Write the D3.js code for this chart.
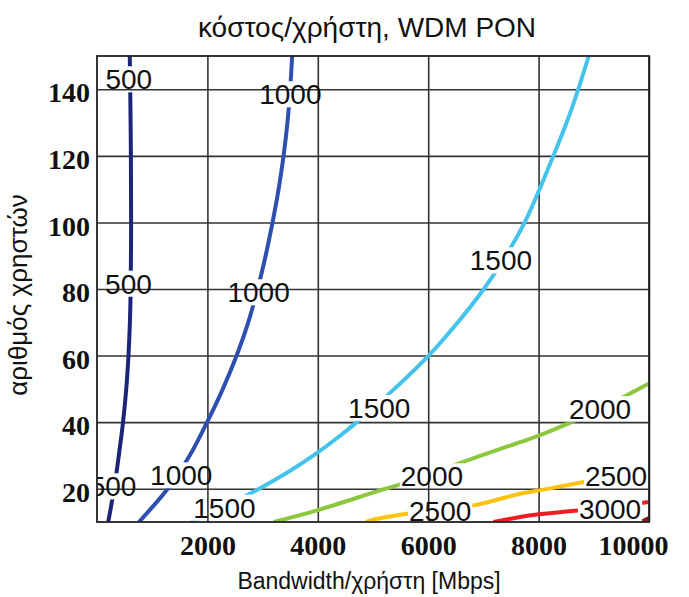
<!DOCTYPE html>
<html>
<head>
<meta charset="utf-8">
<script src="https://cdn.jsdelivr.net/npm/d3@7"></script>
<style>
  body { margin: 0; background: #fff; }
  svg { display: block; }
</style>
</head>
<body>
<svg id="chart" width="689" height="597"></svg>
<script>
// Axis ticks
const xTicks = [2000, 4000, 6000, 8000, 10000];
const yTicks = [20, 40, 60, 80, 100, 120, 140];

// Iso-cost lines: [bandwidth per user (Mbps), number of users]
const contour500 = [[203,10],[258,15],[310,20],[355,25],[395,30],[435,35],[472,40],[530,50],[570,60],[596,70],[610,80],[618,100],[614,120],[602,140],[594,150]];
const contour1000 = [[760,10],[1280,20],[1680,30],[1995,40],[2280,50],[2530,60],[2740,70],[2910,80],[3055,90],[3180,100],[3290,110],[3380,120],[3450,130],[3500,140],[3535,150]];
const contour1500 = [[1723,10],[2348,15],[2938,20],[3463,25],[3923,30],[4333,35],[4708,40],[5388,50],[6008,60],[6538,70],[7008,80],[7408,90],[7748,100],[8018,110],[8268,120],[8508,130],[8718,140],[8908,150]];
const contour2000 = [[3200,10],[3986,13.5],[5131,19.5],[5734,22.5],[6458,27],[7665,34],[8014,36],[8992,43],[10000,51.6]];
const contour2500 = [[4880,10],[4950,10.5],[5614,12.5],[6820,15],[7665,18.5],[8014,19.5],[8811,22],[10000,25.5]];
const contour3000 = [[7182,10],[7665,11.5],[8014,12.3],[9000,14],[10000,16]];
const contour3500 = [[9850,10],[10000,11.2]];

// Where each level's value is written on its line: [bandwidth, users]
const labels500 = [[576,143],[570,81.6],[290,20.7]];
const labels1000 = [[3503,138.5],[2928,79],[1526,24]];
const labels1500 = [[7318,88.6],[5113,44.3],[2308,14.3]];
const labels2000 = [[9113,43.9],[6067,23.7]];
const labels2500 = [[9403,23.7],[6217,13.2]];
const labels3000 = [[9294,13.8]];
const labels3500 = [];

const levels = [500, 1000, 1500, 2000, 2500, 3000, 3500];
const levelLines = [contour500, contour1000, contour1500, contour2000, contour2500, contour3000, contour3500];
const levelLabels = [labels500, labels1000, labels1500, labels2000, labels2500, labels3000, labels3500];
const levelColors = ["#1c247a", "#2f4fae", "#45c3ea", "#8dc63f", "#ffc20e", "#ee1c24", "#8b1414"];

const svg = d3.select("#chart");
const plot = { left: 97, top: 56, right: 649, bottom: 522 };

const x = d3.scaleLinear().domain([0, 10000]).range([plot.left, plot.right]);
const y = d3.scaleLinear().domain([10, 150]).range([plot.bottom, plot.top]);

const defs = svg.append("defs");
defs.append("clipPath").attr("id", "plotClip")
  .append("rect")
  .attr("x", plot.left).attr("y", plot.top)
  .attr("width", plot.right - plot.left).attr("height", plot.bottom - plot.top);
const mask = defs.append("mask").attr("id", "labelGaps")
  .attr("maskUnits", "userSpaceOnUse")
  .attr("x", 0).attr("y", 0).attr("width", 689).attr("height", 597);
mask.append("rect").attr("x", 0).attr("y", 0).attr("width", 689).attr("height", 597).attr("fill", "#fff");

const sans = "Liberation Sans, Arial, sans-serif";

// Title
svg.append("text")
  .attr("x", 367).attr("y", 37)
  .attr("text-anchor", "middle")
  .attr("font-family", sans)
  .attr("font-size", 28)
  .attr("fill", "#111")
  .text("κόστος/χρήστη, WDM PON");

// Grid
const gridX = svg.append("g")
  .attr("transform", `translate(0,${plot.bottom})`)
  .call(d3.axisBottom(x).tickValues(xTicks).tickSize(-(plot.bottom - plot.top)).tickFormat(""));
const gridY = svg.append("g")
  .attr("transform", `translate(${plot.left},0)`)
  .call(d3.axisLeft(y).tickValues(yTicks).tickSize(-(plot.right - plot.left)).tickFormat(""));
[gridX, gridY].forEach(g => {
  g.select(".domain").remove();
  g.selectAll(".tick line").attr("stroke", "#333").attr("stroke-width", 1.6);
});

// Contour lines and their labels
const lineGen = d3.line()
  .x(d => x(d[0]))
  .y(d => y(d[1]))
  .curve(d3.curveCatmullRom.alpha(0.5));

const clipped = svg.append("g").attr("clip-path", "url(#plotClip)");
const linesG = clipped.append("g").attr("mask", "url(#labelGaps)");
const labelsG = clipped.append("g");

const labelSize = 28;
levels.forEach((lvl, i) => {
  linesG.append("path")
    .datum(levelLines[i])
    .attr("d", lineGen)
    .attr("fill", "none")
    .attr("stroke", levelColors[i])
    .attr("stroke-width", 4)
    .attr("stroke-linecap", "butt")
    .attr("stroke-linejoin", "round");

  levelLabels[i].forEach(p => {
    const cx = x(p[0]), cy = y(p[1]);
    const t = labelsG.append("text")
      .attr("x", cx)
      .attr("y", cy + labelSize * 0.358)
      .attr("text-anchor", "middle")
      .attr("font-family", sans)
      .attr("font-size", labelSize)
      .attr("fill", "#111")
      .text(lvl);
    const bb = t.node().getBBox();
    mask.append("rect")
      .attr("x", bb.x - 1)
      .attr("y", cy - labelSize * 0.358 - 3)
      .attr("width", bb.width + 2)
      .attr("height", labelSize * 0.716 + 6)
      .attr("fill", "#000");
  });
});

// Frame
svg.append("rect")
  .attr("x", plot.left).attr("y", plot.top)
  .attr("width", plot.right - plot.left).attr("height", plot.bottom - plot.top)
  .attr("fill", "none").attr("stroke", "#222").attr("stroke-width", 1.8);

// Tick labels
const tickFont = "Liberation Serif, Times New Roman, serif";
const xAxis = svg.append("g")
  .attr("transform", `translate(0,${plot.bottom})`)
  .call(d3.axisBottom(x).tickValues(xTicks).tickSize(0).tickPadding(13).tickFormat(d3.format("d")));
const yAxis = svg.append("g")
  .attr("transform", `translate(${plot.left},0)`)
  .call(d3.axisLeft(y).tickValues(yTicks).tickSize(0).tickPadding(7).tickFormat(d3.format("d")));
[xAxis, yAxis].forEach(g => {
  g.select(".domain").remove();
  g.selectAll("text")
    .attr("font-family", tickFont)
    .attr("font-weight", "bold")
    .attr("font-size", 28)
    .attr("fill", "#111");
});
yAxis.selectAll("text").attr("dy", "0.45em");
// the last bandwidth label is kept inside the page
xAxis.selectAll(".tick")
  .filter(d => d === xTicks[xTicks.length - 1])
  .select("text")
  .attr("text-anchor", "end")
  .attr("x", 19);

// Axis titles
svg.append("text")
  .attr("x", 369).attr("y", 589)
  .attr("text-anchor", "middle")
  .attr("font-family", sans)
  .attr("font-size", 23)
  .attr("fill", "#111")
  .text("Bandwidth/χρήστη [Mbps]");

svg.append("text")
  .attr("transform", "translate(27,295) rotate(-90)")
  .attr("text-anchor", "middle")
  .attr("font-family", sans)
  .attr("font-size", 26)
  .attr("fill", "#111")
  .text("αριθμός χρηστών");
</script>
</body>
</html>
